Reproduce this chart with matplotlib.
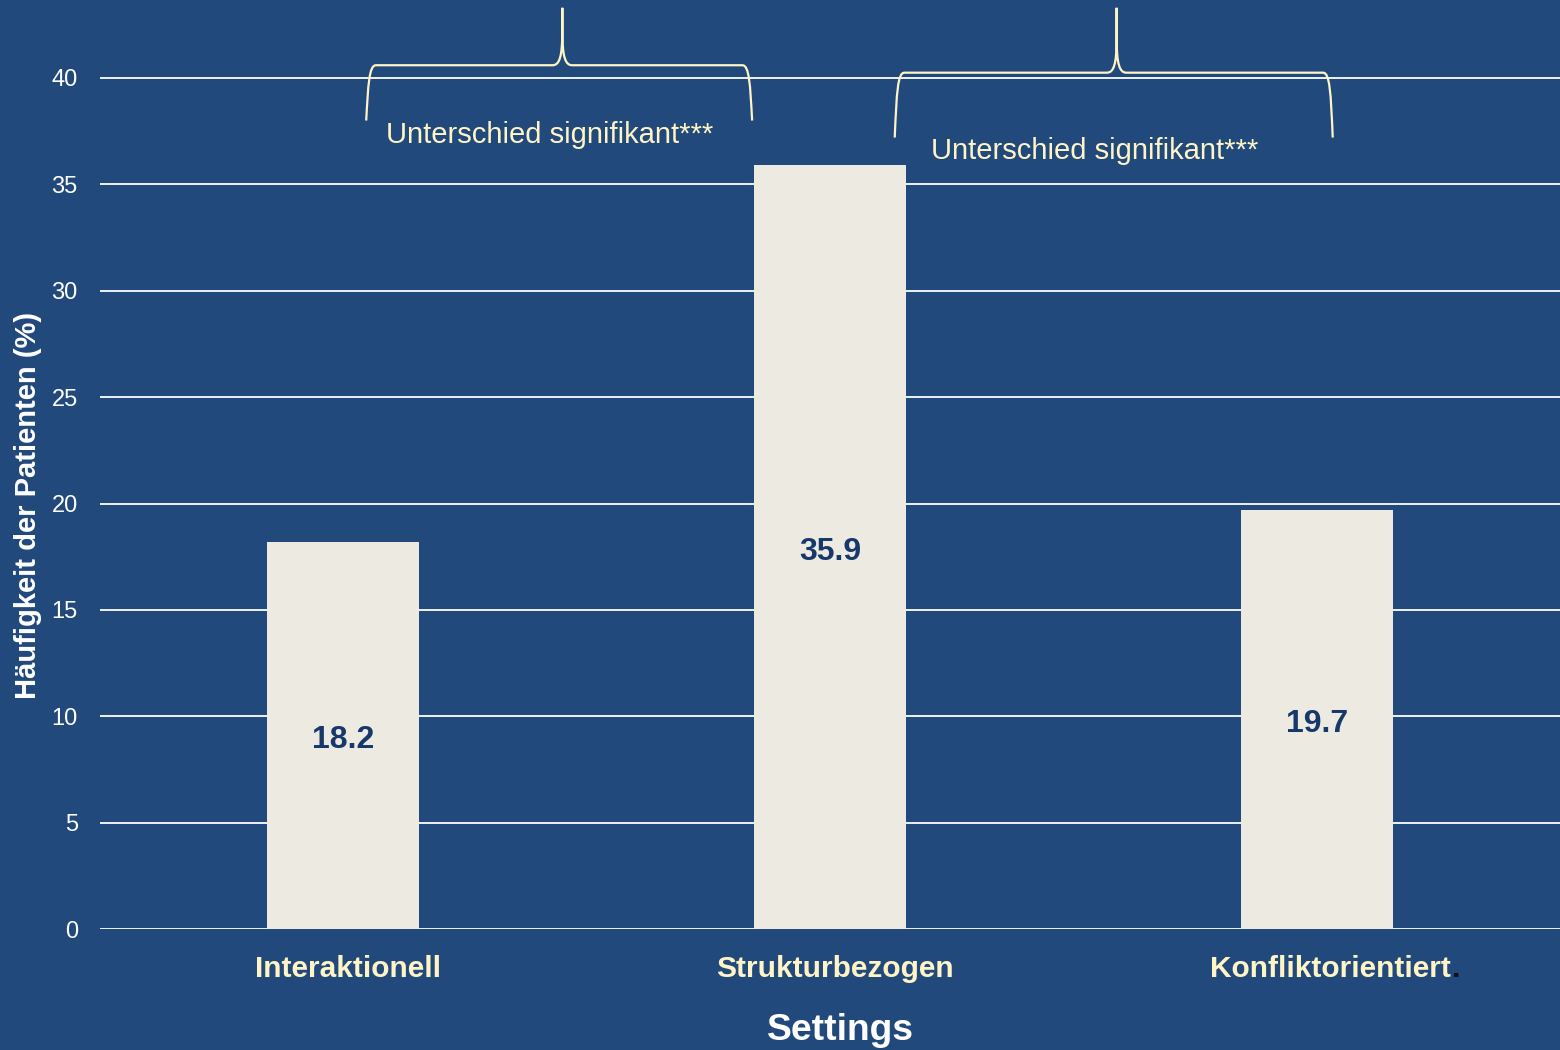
import matplotlib
matplotlib.use("Agg")
import matplotlib.pyplot as plt
from matplotlib.path import Path
from matplotlib.patches import PathPatch
import matplotlib.transforms as mtransforms

plt.rcParams['font.family'] = ['Liberation Sans', 'DejaVu Sans']

# ---- data ----
categories = ["Interaktionell", "Strukturbezogen", "Konfliktorientiert"]
values = [18.2, 35.9, 19.7]
value_labels = ["18.2", "35.9", "19.7"]
yticks = [0, 5, 10, 15, 20, 25, 30, 35, 40]
brace_text = "Unterschied signifikant***"
ylabel = "Häufigkeit der Patienten (%)"
xlabel = "Settings"

BG = "#21497C"
BAR = "#EDEBE1"
CREAM = "#FFF4C6"
NAVY = "#17386A"

fig = plt.figure(figsize=(15.6, 10.5), dpi=100, facecolor=BG)
W, H = 1560, 1050
ax = fig.add_axes([100 / W, (H - 929) / H, 1460 / W, 929 / H])
ax.set_facecolor(BG)
ax.set_xlim(-0.5, 2.5)
ax.set_ylim(0, 929 / 21.275)

x = list(range(len(categories)))
ax.bar(x, values, width=0.312, color=BAR, zorder=3)

down = mtransforms.ScaledTranslation(0, -5 / 100, fig.dpi_scale_trans)
for xi, v, lab in zip(x, values, value_labels):
    ax.text(xi, v / 2, lab, ha="center", va="center", color=NAVY,
            fontsize=23, fontweight="bold", zorder=4,
            transform=ax.transData + down)

ax.set_yticks(yticks)
ax.set_yticklabels([str(t) for t in yticks])
ax.tick_params(axis="y", length=0, pad=16, labelsize=17, labelcolor="white")
ax.set_xticks([])
ax.grid(axis="y", color="white", linewidth=1.3, zorder=1)
ax.set_axisbelow(True)
for s in ax.spines.values():
    s.set_visible(False)

# x category labels (small horizontal nudges in pixels)
label_shift_px = [5, 5, 14]
xlabels = []
for xi, c, sh in zip(x, categories, label_shift_px):
    offset = mtransforms.ScaledTranslation(sh / 100, 0, fig.dpi_scale_trans)
    trans = mtransforms.blended_transform_factory(ax.transData, fig.transFigure) + offset
    t = ax.text(xi, 1 - 969 / H, c, ha="center", va="center", color=CREAM,
                fontsize=21.5, fontweight="bold", transform=trans, clip_on=False)
    xlabels.append(t)
ax.annotate(".", xy=(1, 0), xycoords=xlabels[-1], xytext=(1, 0),
            textcoords="offset points", ha="left", va="bottom",
            color="#111111", fontsize=21.5, fontweight="bold", annotation_clip=False)

fig.text(840 / W, 1 - 1030 / H, xlabel, ha="center", va="center",
         color="white", fontsize=26.8, fontweight="bold")
fig.text(28 / W, 1 - 505 / H, ylabel, ha="center", va="center", rotation=90,
         color="white", fontsize=21, fontweight="bold")

# ---- significance braces (between categories) ----
# (left, cusp, right) in category units, (bottom, horizontal, tip) in value units
braces = [
    ((0.047, 0.45, 0.84), (38.0, 40.6, 43.3), (0.088, 37.3)),
    ((1.133, 1.589, 2.033), (37.2, 40.25, 43.3), (1.207, 36.55)),
]


def brace_path(x0, xc, x1, yb, yh, yt):
    verts, codes = [], []
    for side in (-1, 1):
        xe = x0 if side == -1 else x1
        s = 1 if side == -1 else -1  # direction toward centre
        verts += [(xe, yb),
                  (xe + s * 0.004, yh - 0.9), (xe + s * 0.006, yh), (xe + s * 0.02, yh),
                  (xc - s * 0.02, yh),
                  (xc - s * 0.006, yh), (xc, yh + 0.4), (xc, yh + 1.6),
                  (xc, yt)]
        codes += [Path.MOVETO,
                  Path.CURVE4, Path.CURVE4, Path.CURVE4,
                  Path.LINETO,
                  Path.CURVE4, Path.CURVE4, Path.CURVE4,
                  Path.LINETO]
    return Path(verts, codes)


for (bx0, bxc, bx1), (yb, yh, yt), (tx, ty) in braces:
    p = PathPatch(brace_path(bx0, bxc, bx1, yb, yh, yt), facecolor="none",
                  edgecolor=CREAM, linewidth=1.6, zorder=5, clip_on=False)
    ax.add_patch(p)
    ax.text(tx, ty, brace_text, ha="left", va="center", color=CREAM,
            fontsize=21, zorder=5)

fig.savefig("out.png", dpi=100, facecolor=BG)
